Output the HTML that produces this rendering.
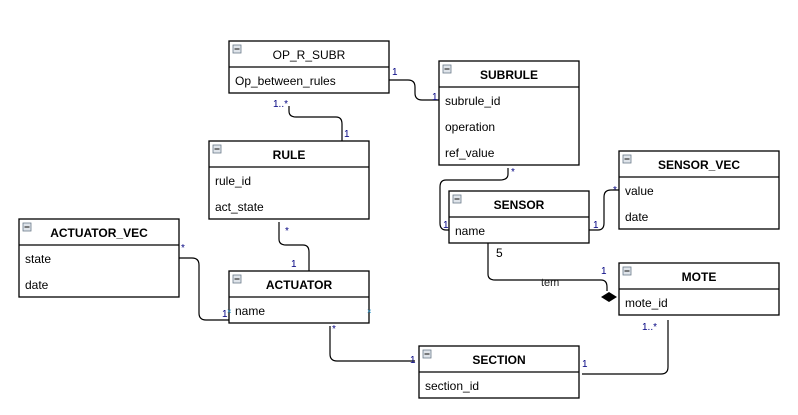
<!DOCTYPE html>
<html><head><meta charset="utf-8"><style>
html,body{margin:0;padding:0;background:#fff;}
svg{display:block;font-family:"Liberation Sans",sans-serif;}
.t{font-size:12px;font-weight:bold;text-anchor:middle;}
.a{font-size:12px;}
.m{font-size:10px;fill:#000080;}
.b{fill:#fff;stroke:#000;stroke-width:1.3;}
.c{fill:none;stroke:#000;stroke-width:1.2;}
</style></head><body>
<svg width="798" height="415" viewBox="0 0 798 415">
<defs>
<g id="ic"><rect x="0" y="0" width="8" height="8" fill="#dfe4ea" stroke="#6b7a8a" stroke-width="0.8"/><line x1="1.5" y1="4" x2="6.5" y2="4" stroke="#333" stroke-width="1.2"/></g>
</defs>
<!-- connectors -->
<path class="c" d="M389 80 H408 Q415 80 415 87 V93 Q415 100 422 100 H439"/>
<path class="c" d="M289 106 V111 Q289 117 296 117 H336 Q342 117 342 124 V141"/>
<path class="c" d="M508 168 V174 Q508 180 500 180 H446 Q440 180 440 187 V223 Q440 230 446 230 H449"/>
<path class="c" d="M589 230 H598 Q604 230 604 223 V197 Q604 190 611 190 H619"/>
<path class="c" d="M279 222 V239 Q279 245 286 245 H303 Q309 245 309 252 V271"/>
<path class="c" d="M179 258 H192 Q199 258 199 265 V313 Q199 320 206 320 H229"/>
<path class="c" d="M488 243 V274 Q488 280 495 280 H601 Q607 280 607 287 V291"/>
<path d="M601 297 L609 292 L617 297 L609 302 Z" fill="#000"/>
<path class="c" d="M330 326 V354 Q330 361 337 361 H415"/>
<path class="c" d="M582 374 H661 Q668 374 668 367 V320"/>
<!-- labels -->
<text class="m" x="392" y="75">1</text>
<text class="m" x="432" y="100">1</text>
<text class="m" x="273" y="107">1..*</text>
<text class="m" x="344" y="137">1</text>
<text class="m" x="511" y="175">*</text>
<text class="m" x="443" y="228">1</text>
<text class="m" x="593" y="228">1</text>
<text class="m" x="613" y="193">*</text>
<text class="m" x="285" y="234">*</text>
<text class="m" x="291" y="267">1</text>
<text class="m" x="181" y="251">*</text>
<text class="m" x="222" y="317">1</text>
<text x="496" y="257" font-size="12">5</text>
<text x="541" y="286" font-size="11" fill="#222">tem</text>
<text class="m" x="601" y="274">1</text>
<text class="m" x="332" y="332">*</text>
<text class="m" x="410" y="363">1</text>
<text class="m" x="582" y="367">1</text>
<text class="m" x="642" y="330">1..*</text>
<!-- boxes -->
<g><rect class="b" x="229" y="41" width="160" height="52"/><line class="c" x1="229" y1="67" x2="389" y2="67"/><use href="#ic" x="233" y="45"/><text x="309" y="59" font-size="12" text-anchor="middle">OP_R_SUBR</text><text class="a" x="235" y="85">Op_between_rules</text></g>
<g><rect class="b" x="439" y="61" width="140" height="104"/><line class="c" x1="439" y1="87" x2="579" y2="87"/><use href="#ic" x="443" y="65"/><text class="t" x="509" y="79">SUBRULE</text><text class="a" x="445" y="105">subrule_id</text><text class="a" x="445" y="131">operation</text><text class="a" x="445" y="157">ref_value</text></g>
<g><rect class="b" x="209" y="141" width="160" height="78"/><line class="c" x1="209" y1="167" x2="369" y2="167"/><use href="#ic" x="213" y="145"/><text class="t" x="289" y="159">RULE</text><text class="a" x="215" y="185">rule_id</text><text class="a" x="215" y="211">act_state</text></g>
<g><rect class="b" x="619" y="151" width="160" height="78"/><line class="c" x1="619" y1="177" x2="779" y2="177"/><use href="#ic" x="623" y="155"/><text class="t" x="699" y="169">SENSOR_VEC</text><text class="a" x="625" y="195">value</text><text class="a" x="625" y="221">date</text></g>
<g><rect class="b" x="19" y="219" width="160" height="78"/><line class="c" x1="19" y1="245" x2="179" y2="245"/><use href="#ic" x="23" y="223"/><text class="t" x="99" y="237">ACTUATOR_VEC</text><text class="a" x="25" y="263">state</text><text class="a" x="25" y="289">date</text></g>
<g><rect class="b" x="449" y="191" width="140" height="52"/><line class="c" x1="449" y1="217" x2="589" y2="217"/><use href="#ic" x="453" y="195"/><text class="t" x="519" y="209">SENSOR</text><text class="a" x="455" y="235">name</text></g>
<g><rect class="b" x="229" y="271" width="140" height="52"/><line class="c" x1="229" y1="297" x2="369" y2="297"/><use href="#ic" x="233" y="275"/><text class="t" x="299" y="289">ACTUATOR</text><text class="a" x="235" y="315">name</text><text x="227" y="314" font-size="8" fill="#3399cc">×</text><text x="367" y="314" font-size="8" fill="#3399cc">×</text></g>
<g><rect class="b" x="619" y="263" width="160" height="52"/><line class="c" x1="619" y1="289" x2="779" y2="289"/><use href="#ic" x="623" y="267"/><text class="t" x="699" y="281">MOTE</text><text class="a" x="625" y="307">mote_id</text></g>
<g><rect class="b" x="419" y="346" width="160" height="52"/><line class="c" x1="419" y1="372" x2="579" y2="372"/><use href="#ic" x="423" y="350"/><text class="t" x="499" y="364">SECTION</text><text class="a" x="425" y="390">section_id</text></g>
</svg>
</body></html>
